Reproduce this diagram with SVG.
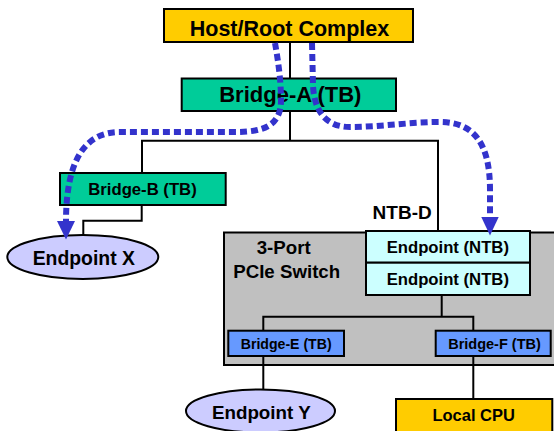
<svg xmlns="http://www.w3.org/2000/svg" width="554" height="431" viewBox="0 0 554 431">
  <style>
    .box { stroke: #000; stroke-width: 2; }
    .cpu { fill: #FFCC00; }
    .tb { fill: #00CC99; }
    .ntb { fill: #CCFFFF; }
    .sw { fill: #C0C0C0; }
    .tb2 { fill: #6699FF; }
    .ep { fill: #CCCCFF; stroke: #000; stroke-width: 2; }
    .lbl { font-family: "Liberation Sans", Arial, sans-serif; font-weight: bold; fill: #000; text-anchor: middle; }
    .wire { fill: none; stroke: #000; stroke-width: 2; }
    .flow { fill: none; stroke: #3333CC; stroke-width: 6; stroke-dasharray: 7 4; }
    .head { fill: #3333CC; }
  </style>

  <!-- 3-port PCIe switch enclosure -->
  <g id="switch">
    <rect class="box sw" x="224" y="232.5" width="340" height="132.5"/>
    <text class="lbl" x="283.7" y="254.3" font-size="18.7">3-Port</text>
    <text class="lbl" x="286.7" y="278.3" font-size="18.7">PCIe Switch</text>
  </g>

  <!-- tree wiring -->
  <g id="connectors">
    <path class="wire" d="M290,42 V78.5"/>
    <path class="wire" d="M290,111 V140.7 M142,140.7 H438 M142,139.7 V173 M438,139.7 V231"/>
    <path class="wire" d="M141.7,205 V220.7 H83.3 V235.5"/>
    <path class="wire" d="M441.7,295 V316.7 M263.3,316.7 H473.3 M263.3,315.7 V330.7 M473.3,315.7 V330.7"/>
    <path class="wire" d="M263.3,356 V390"/>
    <path class="wire" d="M473.3,356 V399"/>
  </g>

  <g id="host">
    <rect class="box cpu" x="164" y="9" width="249" height="33"/>
    <text class="lbl" x="289.5" y="35.7" font-size="21.5">Host/Root Complex</text>
  </g>

  <g id="bridge-a">
    <rect class="box tb" x="181.7" y="78.5" width="214.3" height="32.5"/>
    <text class="lbl" x="290.3" y="102.3" font-size="22">Bridge-A (TB)</text>
  </g>

  <g id="bridge-b">
    <rect class="box tb" x="60" y="173" width="165.7" height="32"/>
    <text class="lbl" x="142.5" y="195" font-size="16.7">Bridge-B (TB)</text>
  </g>

  <g id="endpoint-x">
    <ellipse class="ep" cx="82.8" cy="257" rx="75.5" ry="22"/>
    <text class="lbl" x="83.8" y="265" font-size="19.4">Endpoint X</text>
  </g>

  <g id="ntb-d">
    <text class="lbl" x="431.7" y="219" font-size="19" style="text-anchor:end">NTB-D</text>
    <rect class="box ntb" x="366" y="231" width="164" height="31.7"/>
    <text class="lbl" x="447.8" y="253.3" font-size="16.7">Endpoint (NTB)</text>
    <rect class="box ntb" x="366" y="262.7" width="164" height="32.3"/>
    <text class="lbl" x="447.8" y="285" font-size="16.7">Endpoint (NTB)</text>
  </g>

  <g id="bridge-e">
    <rect class="box tb2" x="228.3" y="330.7" width="115.7" height="25.3"/>
    <text class="lbl" x="286.2" y="349.3" font-size="14.1">Bridge-E (TB)</text>
  </g>

  <g id="bridge-f">
    <rect class="box tb2" x="435.7" y="330.7" width="115" height="25.3"/>
    <text class="lbl" x="494.5" y="349.3" font-size="14.5">Bridge-F (TB)</text>
  </g>

  <g id="endpoint-y">
    <ellipse class="ep" cx="260.5" cy="411" rx="74.5" ry="21.5"/>
    <text class="lbl" x="261.3" y="419" font-size="18.8">Endpoint Y</text>
  </g>

  <g id="local-cpu">
    <rect class="box cpu" x="396" y="399" width="156.3" height="40"/>
    <text class="lbl" x="473.7" y="420.7" font-size="16.5">Local CPU</text>
  </g>

  <!-- dotted transaction paths from the host -->
  <g id="paths">
    <path class="flow" d="M275,43 C278,60 281,80 281,100 C281,125 265,132 235,132 L120,132 C85,132 66,160 66,222"/>
    <polygon class="head" points="57,221 75,221 66,239.5"/>
    <path class="flow" d="M312,43 L313,85 C314,110 325,127 350,127 C380,127 410,122 440,122 C475,122 490,145 490,190 L490,218"/>
    <polygon class="head" points="481.3,217 498.7,217 490,235.5"/>
  </g>
</svg>
